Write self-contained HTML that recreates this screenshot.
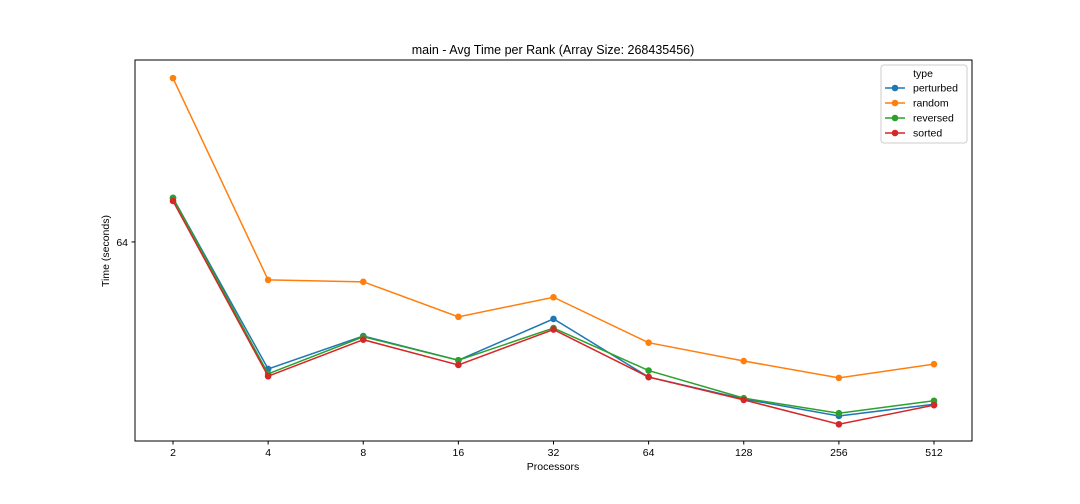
<!DOCTYPE html>
<html><head><meta charset="utf-8"><style>
body{margin:0;background:#fff;}
svg{display:block;font-family:"Liberation Sans","DejaVu Sans",sans-serif;}
</style></head><body>
<svg id="chart" width="1080" height="504" viewBox="0 0 1080 504">
<rect x="0" y="0" width="1080" height="504" fill="#fff"/>
<text x="553" y="54" font-size="12.5" text-anchor="middle">main - Avg Time per Rank (Array Size: 268435456)</text>
<g id="marks"></g>
<rect x="135" y="60" width="837" height="381" fill="none" stroke="#000" stroke-width="1"/>
<g id="axes"></g>
<text x="553" y="470" font-size="10.5" text-anchor="middle">Processors</text>
<text x="109" y="251" font-size="10.5" text-anchor="middle" transform="rotate(-90 109 251)">Time (seconds)</text>
<g id="legend">
<rect x="881" y="65" width="86" height="78" rx="3" fill="#fff" stroke="#ccc"/>
<text x="923" y="77" font-size="10.5" text-anchor="middle">type</text>
</g>
</svg>
<script>
const categories = ["2","4","8","16","32","64","128","256","512"];
const perturbed = [72.3,45.0,49.3,46.1,51.7,44.0,41.4,39.5,40.8];
const random = [100.8,57.6,57.3,52.0,54.9,48.4,46.0,43.9,45.6];
const reversed = [72.3,44.4,49.2,46.1,50.4,44.8,41.5,39.8,41.2];
const sorted = [71.7,44.1,48.8,45.5,50.2,44.0,41.3,38.6,40.7];
const seriesNames = ["perturbed","random","reversed","sorted"];
const yTicks = [64];
const colors = ["#1f77b4","#ff7f0e","#2ca02c","#d62728"];
const allSeries = [perturbed, random, reversed, sorted];
const NS = "http://www.w3.org/2000/svg";
const yMin = 36.85, yMax = 106.0, plotTop = 60, plotBottom = 441;
function xScale(i){ return 173 + i*(934-173)/(categories.length-1); }
function yScale(v){ return plotBottom - (Math.log(v)-Math.log(yMin))/(Math.log(yMax)-Math.log(yMin))*(plotBottom-plotTop); }
const marks = document.getElementById('marks');
const axes = document.getElementById('axes');
categories.forEach((c,i)=>{
  const x = xScale(i);
  const t = document.createElementNS(NS,'line');
  t.setAttribute('x1',x);t.setAttribute('x2',x);t.setAttribute('y1',441);t.setAttribute('y2',444.5);t.setAttribute('stroke','#000');
  
  
  axes.appendChild(t);
  const l = document.createElementNS(NS,'text');
  l.setAttribute('x',x);l.setAttribute('y',456);l.setAttribute('font-size','10.5');l.setAttribute('text-anchor','middle');
  l.textContent = c;
  
  
  axes.appendChild(l);
});
yTicks.forEach(v=>{
  const y = yScale(v);
  const t = document.createElementNS(NS,'line');
  t.setAttribute('x1',131.5);t.setAttribute('x2',135);t.setAttribute('y1',y);t.setAttribute('y2',y);t.setAttribute('stroke','#000');
  
  
  axes.appendChild(t);
  const l = document.createElementNS(NS,'text');
  l.setAttribute('x',128);l.setAttribute('y',y+4);l.setAttribute('font-size','10.5');l.setAttribute('text-anchor','end');
  l.textContent = String(v);
  
  
  axes.appendChild(l);
});
allSeries.forEach((s,k)=>{
  const p = document.createElementNS(NS,'polyline');
  p.setAttribute('points', s.map((v,i)=>xScale(i)+','+yScale(v)).join(' '));
  p.setAttribute('fill','none');p.setAttribute('stroke',colors[k]);p.setAttribute('stroke-width','1.5');
  
  
  marks.appendChild(p);
  s.forEach((v,i)=>{
    const c = document.createElementNS(NS,'circle');
    c.setAttribute('cx',xScale(i));c.setAttribute('cy',yScale(v));c.setAttribute('r',3.3);c.setAttribute('fill',colors[k]);
    
    
    marks.appendChild(c);
  });
});
const legend = document.getElementById('legend');
seriesNames.forEach((n,k)=>{
  const y = 88 + k*15;
  const g = document.createElementNS(NS,'g');
  
  
  const ln = document.createElementNS(NS,'line');
  ln.setAttribute('x1',885);ln.setAttribute('x2',905);ln.setAttribute('y1',y);ln.setAttribute('y2',y);ln.setAttribute('stroke',colors[k]);ln.setAttribute('stroke-width','1.5');
  g.appendChild(ln);
  const c = document.createElementNS(NS,'circle');
  c.setAttribute('cx',895);c.setAttribute('cy',y);c.setAttribute('r',3.3);c.setAttribute('fill',colors[k]);
  g.appendChild(c);
  const t = document.createElementNS(NS,'text');
  t.setAttribute('x',913);t.setAttribute('y',y+3.5);t.setAttribute('font-size','10.5');
  t.textContent = n;
  g.appendChild(t);
  legend.appendChild(g);
});
</script>
</body></html>
